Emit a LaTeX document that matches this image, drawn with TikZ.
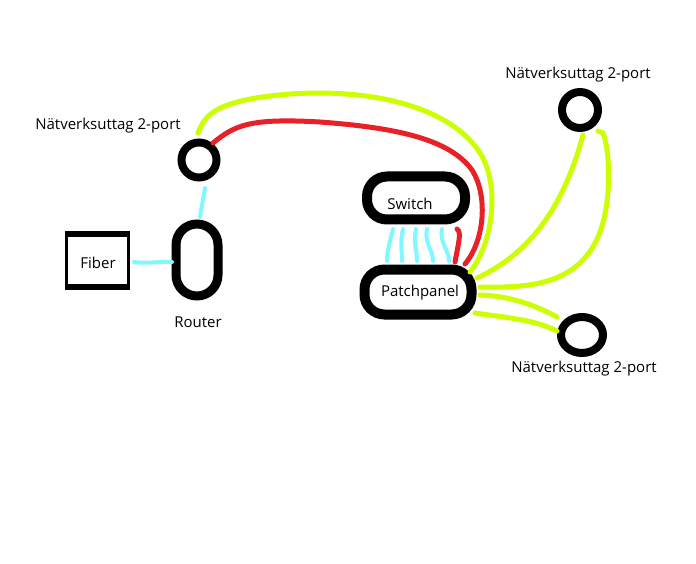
\documentclass[tikz,border=0pt]{standalone}
\usepackage{fontspec}
\setmainfont{Open Sans}
\usetikzlibrary{shapes.geometric}
\tikzset{
  lbl/.style={font=\fontsize{15}{17}\selectfont, inner sep=0pt},
  sock/.style={circle, draw=black, line width=8pt, minimum size=35pt, inner sep=0pt},
  pill/.style={rounded corners=20pt, draw=black, line width=10pt, inner sep=0pt},
  cy/.style={draw={rgb,255:red,128;green,248;blue,255}, line width=4pt, line cap=round},
  gr/.style={draw={rgb,255:red,204;green,255;blue,0}, line width=5pt, line cap=round},
  rd/.style={draw={rgb,255:red,232;green,32;blue,40}, line width=5pt, line cap=round},
}
\begin{document}
\begin{tikzpicture}[x=1pt,y=-1pt]
\useasboundingbox (0,0) rectangle (696,564);
% nodes
\node[sock] (s1) at (199,160) {};
\node[sock, minimum size=36pt] (s2) at (580,110) {};
\node[ellipse, draw=black, line width=8pt, minimum width=42pt, minimum height=36pt, inner sep=0pt] (s3) at (582,335) {};
\node[lbl] (l1) at (108,126) {Nätverksuttag 2-port};
\node[lbl] (l2) at (578,75) {Nätverksuttag 2-port};
\node[lbl] (l3) at (584,369) {Nätverksuttag 2-port};
\node[pill, rounded corners=21pt, minimum width=42pt, minimum height=72pt, line width=9pt] (router) at (197,260) {};
\node[lbl] (rl) at (198,322) {Router};
\node[pill, minimum width=98pt, minimum height=43pt] (switch) at (416,198) {};
\node[lbl] at (410,204) {Switch};
\node[pill, minimum width=107pt, minimum height=45pt] (pp) at (418,292) {};
\node[lbl] at (420,293) {Patchpanel};
\node[draw=black, line width=3pt, minimum width=62pt, minimum height=50pt, inner sep=0pt] (fiber) at (97.5,260.5) {};
\draw[line width=6pt] (fiber.north west) -- (fiber.north east) (fiber.south west) -- (fiber.south east);
\node[lbl] at (98,263) {Fiber};
% connector endpoints
\coordinate (f1) at (134,262); \coordinate (r1) at (172,262);
\coordinate (s1b) at (205,188); \coordinate (r2) at (200,217);
\coordinate (s1g) at (198,133); \coordinate (s1r) at (213,143);
% cyan
\draw[cy] (f1) .. controls (150,264) and (160,261) .. (r1);
\draw[cy] (s1b) -- (r2);
\foreach \a/\b in {393/387,403/402,416/417,427/433,442/449}{
  \draw[cy] (\a,229) .. controls (\a-3,242) and (\b,250) .. (\b,261);
}
% red
\draw[rd] (457,229) .. controls (462,232) and (458,245) .. (455,262);
\draw[rd] (s1r) .. controls (235,125) and (250,118) .. (320,122)
  .. controls (400,128) and (450,140) .. (472,170)
  .. controls (488,195) and (485,240) .. (465,264);
% green
\draw[gr] (s1g) .. controls (205,115) and (215,100) .. (290,94)
  .. controls (380,88) and (450,110) .. (478,150)
  .. controls (500,180) and (495,240) .. (470,272);
\draw[gr] (477,278) .. controls (520,258) and (560,220) .. (583,135);
\draw[gr] (480,287) .. controls (530,288) and (580,285) .. (600,232)
  .. controls (612,200) and (610,150) .. (603,133) -- (598,131);
\draw[gr] (480,295) .. controls (510,296) and (535,305) .. (557,317);
\draw[gr] (475,313) .. controls (510,318) and (535,320) .. (557,331);
\end{tikzpicture}
\end{document}
